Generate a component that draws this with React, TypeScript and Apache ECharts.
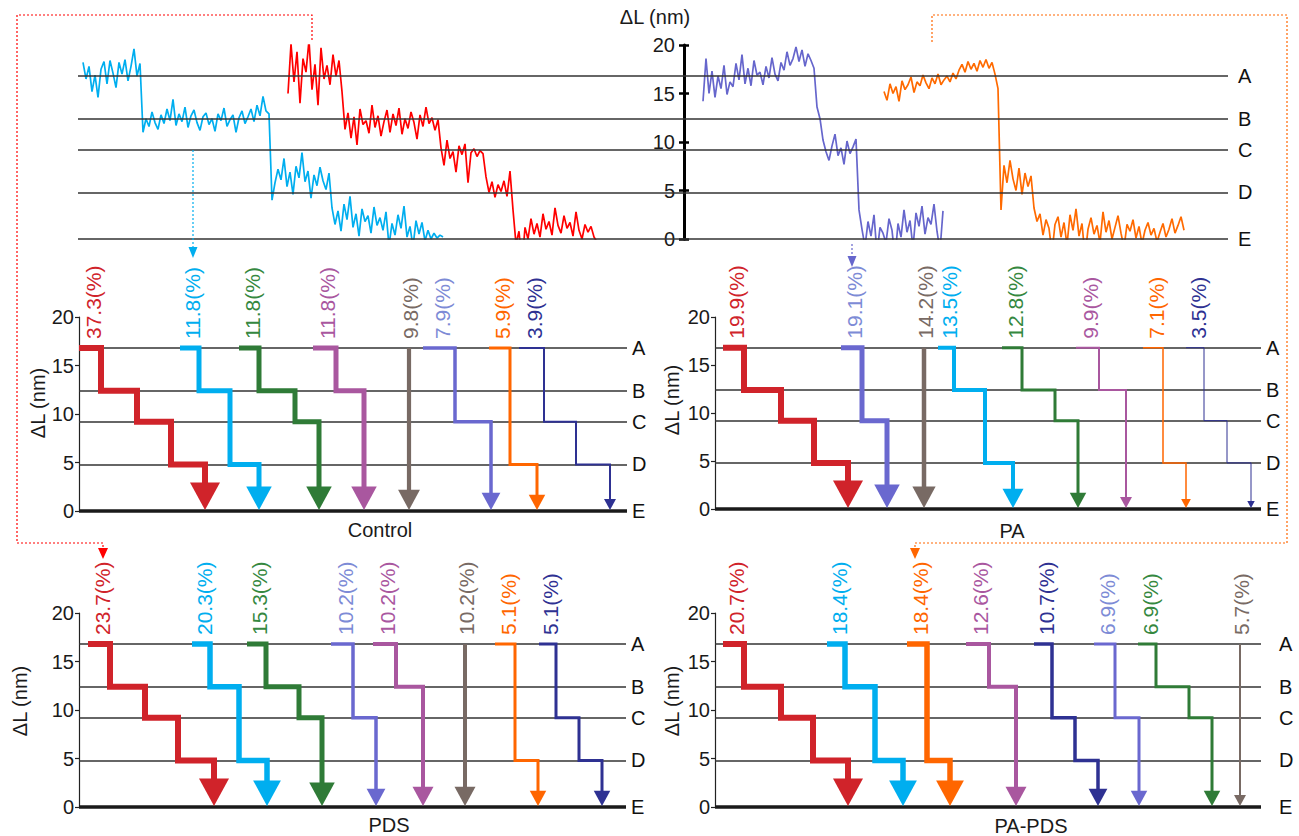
import React, { useEffect, useRef } from "react";
import * as echarts from "echarts";

const FONT = '"Liberation Sans", Arial, Helvetica, sans-serif';

// ---- level definitions (nm) ----
const levelNames = ["A", "B", "C", "D", "E"];
const levelValues = [16.8, 12.4, 9.2, 4.8, 0];

// ---- top panel: raw single-molecule traces (ΔL, nm), sampled every 3 time units ----
const traceStep = 3;
const cyanStart = 5;
const cyanTrace = [
  18.2, 16.5, 17.8, 15.2, 16.9, 14.6, 17.5, 18.3, 16.0, 18.4, 17.1, 15.6, 18.2, 17.0, 18.5, 16.3, 17.8, 19.6, 16.8, 18.1,
  11.0, 12.4, 11.6, 13.1, 12.0, 11.3, 12.8, 11.9, 13.4, 12.2, 14.4, 11.7, 12.9, 12.1, 13.6, 11.5, 12.7, 13.3, 12.0, 11.2,
  12.6, 13.0, 11.8, 12.4, 11.1, 12.9, 12.2, 13.5, 11.6, 12.3, 12.8, 11.0, 12.5, 13.2, 11.9, 12.6, 13.4, 12.1, 13.8, 12.7,
  14.7, 13.2, 12.9,
  4.0, 5.8, 7.2, 6.1, 8.3, 5.4, 6.9, 4.6, 7.5, 6.3, 8.9, 5.9, 7.0, 4.2, 6.6, 5.5, 7.4, 6.0, 5.1, 6.8,
  3.2, 1.5, 2.9, 0.8, 3.6, 2.0, 4.4, 1.2, 2.6, 0.3, 3.1, 1.8, 2.4, 0.6, 3.3, 1.4, 2.2, 0.9, 2.8, -0.7,
  1.6, 0.4, 2.5, 1.1, 3.4, 0.2, 1.3, -0.8, 1.9, 0.5, 1.7, -0.2, 0.9, 0.0, 0.6, 0.1, 0.4, 0.2,
];
const redStart = 210;
const redTrace = [
  15.0, 20.1, 16.2, 19.3, 14.0, 18.6, 17.2, 20.5, 15.4, 18.0, 13.8, 19.7, 16.5, 17.9, 15.9, 19.0, 16.8, 18.4, 15.2,
  11.3, 13.0, 10.4, 12.6, 9.7, 13.4, 11.8, 12.2, 10.9, 13.8, 11.5, 12.7, 10.6, 12.1, 13.3, 11.0, 12.9, 11.7, 13.5, 10.8,
  12.4, 11.4, 13.1, 12.0, 10.3, 12.8, 11.6, 13.6, 11.9, 12.5, 11.2, 12.3,
  9.4, 7.6, 10.2, 8.3, 9.0, 6.9, 9.6, 8.7, 9.8, 5.8, 8.9, 9.3, 8.5, 9.1, 8.8,
  6.4, 4.8, 5.9, 4.3, 5.6, 4.9, 6.0, 4.4, 7.0,
  3.0, -0.5, 0.8, -2.7, 1.2, 0.0, 2.1, 0.5, 1.6, 0.2, 2.6, 1.0, 1.8, 0.4, 3.2, 1.4, 0.6, 2.4, 1.1, 1.7,
  0.3, 2.8, 0.9, 0.0, 1.5, 0.7, 1.3, 0.2, -0.3,
];
const purpleStart = 625;
const purpleTrace = [
  14.2, 18.6, 15.0, 17.3, 14.6, 16.8, 15.5, 17.9, 14.9, 16.2, 15.7, 18.1, 16.4, 19.0, 16.0, 17.6, 15.8, 18.4, 16.9, 17.2,
  15.9, 17.8, 16.6, 18.7, 17.0, 16.3, 18.2, 17.4, 19.3, 17.9, 18.6, 19.8, 18.3, 19.5, 17.8, 19.1, 18.4, 17.6,
  13.6, 12.4,
  10.2, 9.0, 8.1, 9.6, 10.8, 8.6, 9.4, 7.7, 10.1, 8.8, 9.5, 10.3,
  3.0, 1.0, -0.8, 1.8, 0.3, 2.5, -1.5, 1.2, 0.6, -0.4, 2.1, 0.9, -2.0, 1.6, 0.2, 3.0, 0.7, 1.9, -0.9, 2.7,
  1.3, 3.4, 0.5, 2.2, 1.5, 3.6, 0.8, -1.2, 2.9,
];
const orangeStart = 806;
const orangeTrace = [
  15.2, 14.3, 16.0, 15.0, 15.7, 14.2, 16.3, 15.4, 15.9, 16.7, 15.1, 16.2, 15.8, 16.9, 16.1, 15.5, 16.6, 16.0, 17.0, 15.9,
  16.4, 16.8, 16.2, 17.1, 16.5, 17.4, 18.0, 17.2, 18.3, 17.5, 18.1, 17.3, 18.4, 17.7, 18.5, 17.6, 18.2, 17.0,
  15.5,
  3.0, 7.6, 5.8, 8.1, 6.2, 5.0, 7.3, 4.6, 6.8, 5.4, 6.5,
  3.2, 1.8, 2.6, 0.4, 2.0, 1.1, -1.4, 1.5, 2.3, 0.2, 1.7, -0.6, 2.5, 0.9, 3.1, 0.3, 1.6, -1.8, 1.0, 2.2,
  0.5, 1.4, -0.4, 2.8, 0.7, 1.9, 0.0, 1.2, 2.4, 0.6, -0.9, 1.5, 0.8, 2.0, 0.1, 1.3, -0.5, 0.9, 1.7, 0.4,
  1.1, -0.3, 0.7, 1.6, 0.2, 1.0, 2.1, 0.6, 1.4, 2.3, 0.9,
];

// ---- pathway panels: percentage, drop positions, visited levels ----
const controlPct = ["37.3", "11.8", "11.8", "11.8", "9.8", "7.9", "5.9", "3.9"];
const controlSteps = [[0, 22, 58, 92, 126], [101, 120, 151, 180], [160, 180, 216, 240], [234, 257, 285], [330, 330], [344, 376, 412], [410, 431, 458], [440, 465, 497, 531]];
const controlLevels = ["ABCDE", "ABDE", "ABCE", "ABE", "AE", "ACE", "ADE", "ACDE"];

const paPct = ["19.9", "19.1", "14.2", "13.5", "12.8", "9.9", "7.1", "3.5"];
const paSteps = [[8, 29, 66, 99, 133], [126, 147, 172], [209, 209], [223, 239, 270, 298], [287, 307, 340, 363], [361, 384, 411], [428, 448, 471], [471, 489, 512, 536]];
const paLevels = ["ABCDE", "ACE", "AE", "ABDE", "ABCE", "ABE", "ADE", "ACDE"];

const pdsPct = ["23.7", "20.3", "15.3", "10.2", "10.2", "10.2", "5.1", "5.1"];
const pdsSteps = [[9, 31, 66, 99, 135], [113, 131, 160, 188], [168, 187, 220, 243], [252, 274, 297], [294, 317, 344], [386, 386], [416, 436, 459], [460, 477, 500, 523]];
const pdsLevels = ["ABCDE", "ABDE", "ABCE", "ACE", "ABE", "AE", "ADE", "ACDE"];

const papdsPct = ["20.7", "18.4", "18.4", "12.6", "10.7", "6.9", "6.9", "5.7"];
const papdsSteps = [[8, 29, 66, 98, 133], [112, 130, 160, 188], [192, 212, 235], [251, 274, 301], [319, 337, 360, 383], [379, 400, 424], [423, 441, 474, 497], [525, 525]];
const papdsLevels = ["ABCDE", "ABDE", "ADE", "ABE", "ACDE", "ACE", "ABCE", "AE"];

// ---- styles ----
const COL: Record<string, string> = {
  red: "#d0232a", cyan: "#00aeef", green: "#2f7b37", magenta: "#a9579f",
  gray: "#786a64", slate: "#6a68cf", orange: "#ff6600", navy: "#2e3192",
};
const LABCOL: Record<string, string> = { ...COL, slate: "#7d8bd6", green: "#35883f" };
const controlColors = ["red", "cyan", "green", "magenta", "gray", "slate", "orange", "navy"];
const controlWidths = [6, 5, 5, 5, 4.2, 3.5, 3, 2];
const paColors = ["red", "slate", "gray", "cyan", "green", "magenta", "orange", "navy"];
const paWidths = [6, 5, 4.5, 4, 3, 2, 1.5, 1];
const pdsColors = ["red", "cyan", "green", "slate", "magenta", "gray", "orange", "navy"];
const pdsWidths = [6, 5.5, 5, 3.5, 4, 4, 3, 3];
const papdsColors = ["red", "cyan", "orange", "magenta", "navy", "slate", "green", "gray"];
const papdsWidths = [6, 5.5, 5.5, 4, 3.5, 3, 3, 2];

const LV: Record<string, number> = {};
levelNames.forEach((n, i) => (LV[n] = levelValues[i]));

function traceData(start: number, vals: number[]) {
  return vals.map((v, i) => [start + i * traceStep, v]);
}

function stepSeries(gi: number, pct: string[], steps: number[][], levels: string[], colors: string[], widths: number[]) {
  return {
    type: "custom",
    xAxisIndex: gi,
    yAxisIndex: gi + 1,
    clip: false,
    z: 5,
    encode: { x: 0, y: 1 },
    data: steps.map((s) => [s[0], LV.A]),
    renderItem: (params: any, api: any) => {
      const i = params.dataIndex;
      const xs = steps[i];
      const lv = levels[i].split("");
      const lw = widths[i];
      const col = COL[colors[i]];
      const raw: number[][] = [api.coord([xs[0], LV[lv[0]]])];
      for (let k = 1; k < xs.length; k++) {
        raw.push(api.coord([xs[k], LV[lv[k - 1]]]));
        raw.push(api.coord([xs[k], LV[lv[k]]]));
      }
      const pts: number[][] = [];
      raw.forEach((p) => {
        const q = pts[pts.length - 1];
        if (!q || Math.abs(q[0] - p[0]) > 0.01 || Math.abs(q[1] - p[1]) > 0.01) pts.push(p);
      });
      const aw = 4.5 * lw + 3;
      const ah = aw * 0.92;
      const tip = pts[pts.length - 1];
      const tipY = tip[1] - 1;
      const baseY = tipY - ah;
      pts[pts.length - 1] = [tip[0], baseY + 1];
      const a0 = api.coord([xs[0], LV.A]);
      const a1 = api.coord([xs[1], LV.A]);
      const lx = xs[0] === xs[1] ? a0[0] + 1 : (a0[0] + a1[0]) / 2 + 3;
      return {
        type: "group",
        children: [
          {
            type: "polyline",
            shape: { points: pts },
            style: { stroke: col, lineWidth: lw, fill: null, lineJoin: "miter", lineCap: "butt" },
          },
          {
            type: "polygon",
            shape: { points: [[tip[0] - aw / 2, baseY], [tip[0] + aw / 2, baseY], [tip[0], tipY]] },
            style: { fill: col },
          },
          {
            type: "text",
            x: lx,
            y: a0[1] - 9,
            rotation: Math.PI / 2,
            style: {
              text: pct[i] + "(%)",
              fill: LABCOL[colors[i]],
              fontSize: 21,
              fontFamily: FONT,
              align: "left",
              verticalAlign: "middle",
            },
          },
        ],
      };
    },
  };
}

function levelLines(xi: number, yi: number, dist: number, thickE: boolean) {
  return {
    type: "line",
    xAxisIndex: xi,
    yAxisIndex: yi,
    data: [],
    z: 1,
    markLine: {
      silent: true,
      symbol: ["none", "none"],
      animation: false,
      label: { show: true, position: "end", formatter: "{b}", fontSize: 20, color: "#111", fontFamily: FONT, distance: dist },
      lineStyle: { color: "#333", width: 1.6, type: "solid" },
      data: levelNames.map((n, k) => {
        const item: any = { yAxis: levelValues[k], name: n };
        if (thickE && n === "E") item.lineStyle = { color: "#1a1a1a", width: 3.5, type: "solid" };
        return item;
      }),
    },
  };
}

function stepYAxis(gi: number) {
  return {
    gridIndex: gi,
    type: "value",
    min: 0,
    max: 20,
    interval: 5,
    axisLine: { show: true, lineStyle: { color: "#222", width: 1.2 } },
    axisTick: { show: true, length: 4, lineStyle: { color: "#222", width: 1.2 } },
    axisLabel: { fontSize: 20, color: "#1a1a1a", margin: 5, fontFamily: FONT },
    splitLine: { show: false },
  };
}

function dotted(points: number[][], color: string) {
  return {
    type: "polyline",
    shape: { points },
    style: { stroke: color, lineWidth: 1.2, lineDash: [2, 2], fill: null },
    z: 10,
  };
}
function arrowHead(x: number, tipY: number, color: string, w = 10, h = 11) {
  return {
    type: "polygon",
    shape: { points: [[x - w / 2, tipY - h], [x + w / 2, tipY - h], [x, tipY]] },
    style: { fill: color },
    z: 10,
  };
}
function label(text: string, x: number, y: number, rot = 0) {
  return {
    type: "text",
    x,
    y,
    rotation: rot,
    style: { text, fontSize: 20, fill: "#1a1a1a", fontFamily: FONT, align: "center", verticalAlign: "middle" },
    z: 10,
  };
}

export default function App() {
  const ref = useRef<HTMLDivElement>(null);
  useEffect(() => {
    if (!ref.current) return;
    const chart = echarts.init(ref.current, null, { renderer: "svg" });
    const grids = [
      { left: 78, top: 45, width: 1150, height: 194 },
      { left: 684, top: 45, width: 10, height: 194 },
      { left: 79, top: 317, width: 548, height: 194 },
      { left: 715, top: 317, width: 546, height: 192 },
      { left: 79, top: 613, width: 547, height: 194 },
      { left: 715, top: 613, width: 546, height: 194 },
    ];
    const xAxes = [
      { gridIndex: 0, type: "value", min: 0, max: 1150, show: false },
      { gridIndex: 1, type: "value", min: 0, max: 1, show: false },
      { gridIndex: 2, type: "value", min: 0, max: 548, show: false },
      { gridIndex: 3, type: "value", min: 0, max: 546, show: false },
      { gridIndex: 4, type: "value", min: 0, max: 547, show: false },
      { gridIndex: 5, type: "value", min: 0, max: 546, show: false },
    ];
    const yAxes = [
      { gridIndex: 0, type: "value", min: 0, max: 20, show: false },
      {
        gridIndex: 1, type: "value", min: 0, max: 20, interval: 5, position: "left",
        axisLine: { show: true, lineStyle: { color: "#000", width: 3 } },
        axisTick: { show: true, length: 5, lineStyle: { color: "#000", width: 2.5 } },
        axisLabel: { fontSize: 20, color: "#1a1a1a", margin: 9, fontFamily: FONT },
        splitLine: { show: false },
      },
      {
        gridIndex: 1, type: "value", min: 0, max: 20, interval: 5, position: "left", offset: 0,
        axisLine: { show: false },
        axisTick: { show: true, inside: true, length: 5, lineStyle: { color: "#000", width: 2.5 } },
        axisLabel: { show: false },
        splitLine: { show: false },
      },
      stepYAxis(2),
      stepYAxis(3),
      stepYAxis(4),
      stepYAxis(5),
    ];
    const traceLine = (data: number[][], color: string) => ({
      type: "line",
      xAxisIndex: 0,
      yAxisIndex: 0,
      data,
      showSymbol: false,
      symbol: "none",
      z: 4,
      lineStyle: { color, width: 1.7 },
    });
    const series: any[] = [
      levelLines(0, 0, 10, false),
      traceLine(traceData(cyanStart, cyanTrace), "#00aeef"),
      traceLine(traceData(redStart, redTrace), "#ff0000"),
      traceLine(traceData(purpleStart, purpleTrace), "#6666cc"),
      traceLine(traceData(orangeStart, orangeTrace), "#ff6a00"),
      { type: "line", xAxisIndex: 1, yAxisIndex: 1, data: [] },
      { type: "line", xAxisIndex: 1, yAxisIndex: 2, data: [] },
      levelLines(2, 3, 5, true),
      levelLines(3, 4, 5, true),
      levelLines(4, 5, 5, true),
      levelLines(5, 6, 18, true),
      stepSeries(2, controlPct, controlSteps, controlLevels, controlColors, controlWidths),
      stepSeries(3, paPct, paSteps, paLevels, paColors, paWidths),
      stepSeries(4, pdsPct, pdsSteps, pdsLevels, pdsColors, pdsWidths),
      stepSeries(5, papdsPct, papdsSteps, papdsLevels, papdsColors, papdsWidths),
    ];
    const graphic: any[] = [
      label("ΔL (nm)", 655, 17),
      label("ΔL (nm)", 38, 403, Math.PI / 2),
      label("ΔL (nm)", 672, 400, Math.PI / 2),
      label("ΔL (nm)", 20, 701, Math.PI / 2),
      label("ΔL (nm)", 672, 701, Math.PI / 2),
      label("Control", 380, 530),
      label("PA", 1012, 531),
      label("PDS", 389, 825),
      label("PA-PDS", 1031, 826),
      dotted([[312, 40], [312, 15], [17, 15], [17, 543], [103, 543], [103, 550]], "#ff0000"),
      arrowHead(103, 559, "#ff0000"),
      dotted([[932, 42], [932, 15], [1287, 15], [1287, 543], [915, 543], [915, 550]], "#ff6600"),
      arrowHead(915, 559, "#ff6600"),
      dotted([[193, 150], [193, 249]], "#00aeef"),
      arrowHead(193, 258, "#00aeef", 9, 11),
      dotted([[852, 244], [852, 258]], "#6666cc"),
      arrowHead(852, 267, "#6666cc", 9, 11),
    ];
    chart.setOption({
      animation: false,
      backgroundColor: "#ffffff",
      textStyle: { fontFamily: FONT },
      grid: grids,
      xAxis: xAxes,
      yAxis: yAxes,
      series,
      graphic: { elements: graphic },
    });
    return () => chart.dispose();
  }, []);
  return (
    <div
      ref={ref}
      style={{ position: "absolute", left: 0, top: 0, width: 1299, height: 836, background: "#fff" }}
    />
  );
}
